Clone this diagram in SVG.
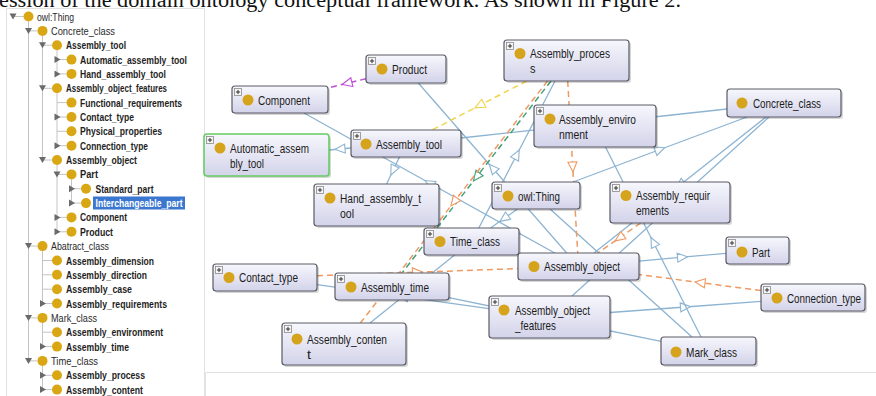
<svg xmlns="http://www.w3.org/2000/svg" xmlns:xlink="http://www.w3.org/1999/xlink" width="876" height="396" viewBox="0 0 876 396">
<defs>
  <linearGradient id="ng" x1="0" y1="0" x2="0" y2="1">
    <stop offset="0" stop-color="#f7f7fd"/>
    <stop offset="1" stop-color="#d3d3ea"/>
  </linearGradient>
  <g id="plus">
    <rect x="0" y="0" width="7" height="7" fill="#f6f6f6" stroke="#8a8a8a" stroke-width="0.8"/>
    <path d="M3.5 1.4v4.2M1.4 3.5h4.2" stroke="#333" stroke-width="1"/>
  </g>
  <marker id="mb" markerUnits="userSpaceOnUse" markerWidth="13" markerHeight="12" refX="6" refY="6" orient="auto">
    <path d="M1,1.5 L11,6 L1,10.5 z" fill="#fff" stroke="#8db4d2" stroke-width="1.1"/>
  </marker>
  <marker id="mp" markerUnits="userSpaceOnUse" markerWidth="13" markerHeight="12" refX="6" refY="6" orient="auto">
    <path d="M1,1.5 L11,6 L1,10.5 z" fill="#fff" stroke="#c050d8" stroke-width="1.1"/>
  </marker>
  <marker id="my" markerUnits="userSpaceOnUse" markerWidth="13" markerHeight="12" refX="6" refY="6" orient="auto">
    <path d="M1,1.5 L11,6 L1,10.5 z" fill="#fff" stroke="#f0d44a" stroke-width="1.1"/>
  </marker>
  <marker id="mg" markerUnits="userSpaceOnUse" markerWidth="13" markerHeight="12" refX="6" refY="6" orient="auto">
    <path d="M1,1.5 L11,6 L1,10.5 z" fill="#fff" stroke="#3f9f7e" stroke-width="1.1"/>
  </marker>
  <marker id="mo" markerUnits="userSpaceOnUse" markerWidth="13" markerHeight="12" refX="6" refY="6" orient="auto">
    <path d="M1,1.5 L11,6 L1,10.5 z" fill="#fff" stroke="#ee9a62" stroke-width="1.1"/>
  </marker>
</defs>
<style>
  .caption { font-family: "Liberation Serif", "Times New Roman", serif; font-size: 20px; fill: #111; }
  .tr { font-family: "Liberation Sans", Arial, sans-serif; font-size: 11px; fill: #2a2a2a; }
  .tb { font-weight: bold; fill: #1e1e1e; }
  .guide { stroke: #c4c4c4; stroke-width: 1; fill: none; }
  .tog { fill: #6a6a6a; }
  .tdot { fill: #d9a614; }
  .nl { font-family: "Liberation Sans", Arial, sans-serif; font-size: 13.5px; fill: #1c1c1c; }
  .box { fill: url(#ng); stroke: #5a5a66; stroke-width: 1.2; }
  .sel { stroke: #66cc66; stroke-width: 1.6; }
  .sh { fill: #000; opacity: 0.16; }
  .dot { fill: #d6a31c; }
  .isa { fill: none; stroke: #8db4d2; stroke-width: 1.3; marker-mid: url(#mb); }
  .rp { fill: none; stroke: #c050d8; stroke-width: 1.5; stroke-dasharray: 6 4; marker-mid: url(#mp); }
  .ry { fill: none; stroke: #f0d44a; stroke-width: 1.5; stroke-dasharray: 6 4; marker-mid: url(#my); }
  .rg { fill: none; stroke: #3f9f7e; stroke-width: 1.5; stroke-dasharray: 6 4; marker-mid: url(#mg); }
  .ro { fill: none; stroke: #ee9a62; stroke-width: 1.5; stroke-dasharray: 6 4; marker-mid: url(#mo); }
  .frame { fill: none; stroke: #e2e2e2; stroke-width: 1; }
</style>

<rect width="876" height="396" fill="#ffffff"/>

<!-- running text line of the page, cut at the top edge -->
<text class="caption" x="-1" y="7" textLength="682" lengthAdjust="spacingAndGlyphs">ession of the domain ontology conceptual framework. As shown in Figure 2.</text>

<!-- panel frames -->
<path class="frame" d="M6.5 396V8.5H204.5V396"/>
<path class="frame" d="M205.5 396V372.5H876"/>

<!-- class hierarchy tree -->
<g id="tree">
  <g class="guide">
    <path d="M28.5 21.5V360.9"/>
    <path d="M42.5 35.9V160"/>
    <path d="M57 50.2V73.9"/>
    <path d="M57 93.3V145.7"/>
    <path d="M57 165V231.8"/>
    <path d="M71.5 179.4V203.1"/>
    <path d="M42.5 251.1V303.5"/>
    <path d="M42.5 322.9V346.6"/>
    <path d="M42.5 365.9V389.6"/>
    <!-- row stubs -->
    <path d="M13 16.5H23.5M28.5 30.9H37.5M42.5 45.2H52M57 59.6H66.5M57 73.9H66.5M42.5 88.3H52M57 102.6H66.5M57 117H66.5M57 131.3H66.5M57 145.7H66.5M42.5 160H52M57 174.4H66.5M71.5 188.7H81M71.5 203.1H81M57 217.4H66.5M57 231.8H66.5M28.5 246.1H37.5M42.5 260.5H52M42.5 274.8H52M42.5 289.2H52M42.5 303.5H52M28.5 317.9H37.5M42.5 332.2H52M42.5 346.6H52M28.5 360.9H37.5M42.5 375.3H52M42.5 389.6H52"/>
  </g>
  <!-- expand / collapse toggles -->
  <g class="tog">
    <path d="M9.5 13.5h7l-3.5 6z"/>
    <path d="M25 27.9h7l-3.5 6z"/>
    <path d="M39 42.2h7l-3.5 6z"/>
    <path d="M54.5 56.1l6 3.5-6 3.5z"/>
    <path d="M54.5 70.4l6 3.5-6 3.5z"/>
    <path d="M39 85.3h7l-3.5 6z"/>
    <path d="M54.5 113.5l6 3.5-6 3.5z"/>
    <path d="M54.5 142.2l6 3.5-6 3.5z"/>
    <path d="M39 157h7l-3.5 6z"/>
    <path d="M53.5 171.4h7l-3.5 6z"/>
    <path d="M69 185.2l6 3.5-6 3.5z"/>
    <path d="M69 199.6l6 3.5-6 3.5z"/>
    <path d="M54.5 213.9l6 3.5-6 3.5z"/>
    <path d="M54.5 228.3l6 3.5-6 3.5z"/>
    <path d="M25 243.1h7l-3.5 6z"/>
    <path d="M40 300l6 3.5-6 3.5z"/>
    <path d="M25 314.9h7l-3.5 6z"/>
    <path d="M40 343.1l6 3.5-6 3.5z"/>
    <path d="M25 357.9h7l-3.5 6z"/>
    <path d="M40 371.8l6 3.5-6 3.5z"/>
    <path d="M40 386.1l6 3.5-6 3.5z"/>
  </g>
  <g class="tdot">
    <circle cx="28.5" cy="16.5" r="5"/>
    <circle cx="42.5" cy="30.9" r="5"/>
    <circle cx="57" cy="45.2" r="5"/>
    <circle cx="71.5" cy="59.6" r="5"/>
    <circle cx="71.5" cy="73.9" r="5"/>
    <circle cx="57" cy="88.3" r="5"/>
    <circle cx="71.5" cy="102.6" r="5"/>
    <circle cx="71.5" cy="117" r="5"/>
    <circle cx="71.5" cy="131.3" r="5"/>
    <circle cx="71.5" cy="145.7" r="5"/>
    <circle cx="57" cy="160" r="5"/>
    <circle cx="71.5" cy="174.4" r="5"/>
    <circle cx="86" cy="188.7" r="5"/>
    <circle cx="86" cy="203.1" r="5"/>
    <circle cx="71.5" cy="217.4" r="5"/>
    <circle cx="71.5" cy="231.8" r="5"/>
    <circle cx="42.5" cy="246.1" r="5"/>
    <circle cx="57" cy="260.5" r="5"/>
    <circle cx="57" cy="274.8" r="5"/>
    <circle cx="57" cy="289.2" r="5"/>
    <circle cx="57" cy="303.5" r="5"/>
    <circle cx="42.5" cy="317.9" r="5"/>
    <circle cx="57" cy="332.2" r="5"/>
    <circle cx="57" cy="346.6" r="5"/>
    <circle cx="42.5" cy="360.9" r="5"/>
    <circle cx="57" cy="375.3" r="5"/>
    <circle cx="57" cy="389.6" r="5"/>
  </g>
  <rect x="93" y="196.5" width="92" height="13" fill="#3b77cf"/>
  <g class="tr">
    <text x="37" y="20.5" textLength="37" lengthAdjust="spacingAndGlyphs">owl:Thing</text>
    <text x="51" y="34.9" textLength="64" lengthAdjust="spacingAndGlyphs">Concrete_class</text>
    <text class="tb" x="66" y="49.2" textLength="60" lengthAdjust="spacingAndGlyphs">Assembly_tool</text>
    <text class="tb" x="80" y="63.6" textLength="107" lengthAdjust="spacingAndGlyphs">Automatic_assembly_tool</text>
    <text class="tb" x="80" y="77.9" textLength="86" lengthAdjust="spacingAndGlyphs">Hand_assembly_tool</text>
    <text class="tb" x="66" y="92.3" textLength="101" lengthAdjust="spacingAndGlyphs">Assembly_object_features</text>
    <text class="tb" x="80" y="106.6" textLength="102" lengthAdjust="spacingAndGlyphs">Functional_requirements</text>
    <text class="tb" x="80" y="121" textLength="54" lengthAdjust="spacingAndGlyphs">Contact_type</text>
    <text class="tb" x="80" y="135.3" textLength="82" lengthAdjust="spacingAndGlyphs">Physical_properties</text>
    <text class="tb" x="80" y="149.7" textLength="68" lengthAdjust="spacingAndGlyphs">Connection_type</text>
    <text class="tb" x="66" y="164" textLength="71" lengthAdjust="spacingAndGlyphs">Assembly_object</text>
    <text class="tb" x="80" y="178.4" textLength="18" lengthAdjust="spacingAndGlyphs">Part</text>
    <text class="tb" x="95.5" y="192.7" textLength="58" lengthAdjust="spacingAndGlyphs">Standard_part</text>
    <text class="tb" x="95.5" y="207.1" textLength="87" lengthAdjust="spacingAndGlyphs" style="fill:#ffffff">Interchangeable_part</text>
    <text class="tb" x="80" y="221.4" textLength="47" lengthAdjust="spacingAndGlyphs">Component</text>
    <text class="tb" x="80" y="235.8" textLength="33" lengthAdjust="spacingAndGlyphs">Product</text>
    <text x="51" y="250.1" textLength="58" lengthAdjust="spacingAndGlyphs">Abatract_class</text>
    <text class="tb" x="66" y="264.5" textLength="88" lengthAdjust="spacingAndGlyphs">Assembly_dimension</text>
    <text class="tb" x="66" y="278.8" textLength="81" lengthAdjust="spacingAndGlyphs">Assembly_direction</text>
    <text class="tb" x="66" y="293.2" textLength="66" lengthAdjust="spacingAndGlyphs">Assembly_case</text>
    <text class="tb" x="66" y="307.5" textLength="101" lengthAdjust="spacingAndGlyphs">Assembly_requirements</text>
    <text x="51" y="321.9" textLength="46" lengthAdjust="spacingAndGlyphs">Mark_class</text>
    <text class="tb" x="66" y="336.2" textLength="97" lengthAdjust="spacingAndGlyphs">Assembly_environment</text>
    <text class="tb" x="66" y="350.6" textLength="63" lengthAdjust="spacingAndGlyphs">Assembly_time</text>
    <text x="51" y="364.9" textLength="47" lengthAdjust="spacingAndGlyphs">Time_class</text>
    <text class="tb" x="66" y="379.3" textLength="79" lengthAdjust="spacingAndGlyphs">Assembly_process</text>
    <text class="tb" x="66" y="393.6" textLength="77" lengthAdjust="spacingAndGlyphs">Assembly_content</text>
  </g>
</g>

<!-- graph connectors: each path has a middle vertex carrying the arrowhead -->
<g id="connectors">
  <!-- subclass links -->
  <path class="isa" d="M573 182L660 149.5L747 117"/>
  <path class="isa" d="M517.5 209L504 218.5L490.5 228"/>
  <path class="isa" d="M550 209L621 273L692 337"/>
  <path class="isa" d="M727 109L594 123.5L461 138"/>
  <path class="isa" d="M766 117L680 185L594 253"/>
  <path class="isa" d="M769 117L670.5 206.5L572 296"/>
  <path class="isa" d="M351 148L340 149L329 150"/>
  <path class="isa" d="M399.5 157L393 170.5L386.6 184"/>
  <path class="isa" d="M554.7 253L429.4 183L304 113"/>
  <path class="isa" d="M566.7 253L492.5 168L418.3 83"/>
  <path class="isa" d="M639 261.1L682.5 257.2L726 253.3"/>
  <path class="isa" d="M489 308.6L403 296.6L317 284.7"/>
  <path class="isa" d="M610 312.5L685.5 307L761 301.4"/>
  <path class="isa" d="M701 337L653.2 242L605.5 147"/>
  <path class="isa" d="M661 341.3L555 319.5L449 297.7"/>
  <path class="isa" d="M478.8 228L516.9 154.5L555 81"/>
  <path class="isa" d="M454.6 255L412.3 289L370 323"/>
  <!-- property links -->
  <path class="rp" d="M366 78.7L347 83.3L328 87.9"/>
  <path class="ry" d="M526.8 81L479.4 105.5L432 130"/>
  <path class="rg" d="M551 81L476.5 177L402 273"/>
  <path class="ro" d="M547.5 81L454 202L360.4 323"/>
  <path class="ro" d="M567.7 81L572.7 167L577.7 253"/>
  <path class="ro" d="M640.7 223L619.3 238L597.8 253"/>
  <path class="ro" d="M761 290.6L700 282.6L639 274.5"/>
  <path class="ro" d="M317 275.7L417.5 272.2L518 268.6"/>
</g>

<!-- graph nodes -->
<g id="n-product">
  <rect class="sh" x="368" y="57" width="80" height="28" rx="3"/>
  <rect class="box" x="366" y="55" width="80" height="28" rx="3"/>
  <use xlink:href="#plus" x="368.5" y="57.5"/>
  <circle class="dot" cx="382" cy="69" r="5.5"/>
  <text class="nl" x="392" y="73.7" textLength="35" lengthAdjust="spacingAndGlyphs">Product</text>
</g>
<g id="n-component">
  <rect class="sh" x="234" y="88" width="96" height="27" rx="3"/>
  <rect class="box" x="232" y="86" width="96" height="27" rx="3"/>
  <use xlink:href="#plus" x="234.5" y="88.5"/>
  <circle class="dot" cx="248" cy="100" r="5.5"/>
  <text class="nl" x="258" y="104.7" textLength="52" lengthAdjust="spacingAndGlyphs">Component</text>
</g>
<g id="n-automatic-assembly-tool">
  <rect class="sh" x="206" y="136" width="125" height="42" rx="3"/>
  <rect class="box sel" x="204" y="134" width="125" height="42" rx="3"/>
  <use xlink:href="#plus" x="206.5" y="136.5"/>
  <circle class="dot" cx="220" cy="148" r="5.5"/>
  <text class="nl" x="230" y="152.7" textLength="79" lengthAdjust="spacingAndGlyphs">Automatic_assem</text>
  <text class="nl" x="230" y="167.7" textLength="34" lengthAdjust="spacingAndGlyphs">bly_tool</text>
</g>
<g id="n-assembly-tool">
  <rect class="sh" x="353" y="132" width="110" height="27" rx="3"/>
  <rect class="box" x="351" y="130" width="110" height="27" rx="3"/>
  <use xlink:href="#plus" x="353.5" y="132.5"/>
  <circle class="dot" cx="366" cy="144" r="5.5"/>
  <text class="nl" x="376" y="148.7" textLength="66" lengthAdjust="spacingAndGlyphs">Assembly_tool</text>
</g>
<g id="n-assembly-process">
  <rect class="sh" x="506" y="42" width="125" height="41" rx="3"/>
  <rect class="box" x="504" y="40" width="125" height="41" rx="3"/>
  <use xlink:href="#plus" x="506.5" y="42.5"/>
  <circle class="dot" cx="520" cy="53.5" r="5.5"/>
  <text class="nl" x="530" y="58" textLength="80" lengthAdjust="spacingAndGlyphs">Assembly_proces</text>
  <text class="nl" x="530" y="73" textLength="5.5" lengthAdjust="spacingAndGlyphs">s</text>
</g>
<g id="n-assembly-environment">
  <rect class="sh" x="536" y="107" width="122" height="42" rx="3"/>
  <rect class="box" x="534" y="105" width="122" height="42" rx="3"/>
  <use xlink:href="#plus" x="536.5" y="107.5"/>
  <circle class="dot" cx="550" cy="119" r="5.5"/>
  <text class="nl" x="559" y="123.7" textLength="77" lengthAdjust="spacingAndGlyphs">Assembly_enviro</text>
  <text class="nl" x="559" y="138.7" textLength="29" lengthAdjust="spacingAndGlyphs">nment</text>
</g>
<g id="n-concrete-class">
  <rect class="sh" x="729" y="91" width="114" height="28" rx="3"/>
  <rect class="box" x="727" y="89" width="114" height="28" rx="3"/>
  <circle class="dot" cx="742" cy="103" r="5.5"/>
  <text class="nl" x="753" y="107.7" textLength="68" lengthAdjust="spacingAndGlyphs">Concrete_class</text>
</g>
<g id="n-assembly-requirements">
  <rect class="sh" x="612" y="184" width="120" height="41" rx="3"/>
  <rect class="box" x="610" y="182" width="120" height="41" rx="3"/>
  <use xlink:href="#plus" x="612.5" y="184.5"/>
  <circle class="dot" cx="626" cy="195.5" r="5.5"/>
  <text class="nl" x="636" y="200" textLength="74" lengthAdjust="spacingAndGlyphs">Assembly_requir</text>
  <text class="nl" x="636" y="215" textLength="33" lengthAdjust="spacingAndGlyphs">ements</text>
</g>
<g id="n-hand-assembly-tool">
  <rect class="sh" x="316" y="186" width="125" height="42" rx="3"/>
  <rect class="box" x="314" y="184" width="125" height="42" rx="3"/>
  <use xlink:href="#plus" x="316.5" y="186.5"/>
  <circle class="dot" cx="330" cy="198" r="5.5"/>
  <text class="nl" x="340" y="202.7" textLength="81" lengthAdjust="spacingAndGlyphs">Hand_assembly_t</text>
  <text class="nl" x="340" y="217.7" textLength="14" lengthAdjust="spacingAndGlyphs">ool</text>
</g>
<g id="n-owl-thing">
  <rect class="sh" x="494" y="184" width="88" height="27" rx="3"/>
  <rect class="box" x="492" y="182" width="88" height="27" rx="3"/>
  <use xlink:href="#plus" x="494.5" y="184.5"/>
  <circle class="dot" cx="508" cy="196" r="5.5"/>
  <text class="nl" x="518" y="200.7" textLength="42" lengthAdjust="spacingAndGlyphs">owl:Thing</text>
</g>
<g id="n-time-class">
  <rect class="sh" x="426" y="230" width="95" height="27" rx="3"/>
  <rect class="box" x="424" y="228" width="95" height="27" rx="3"/>
  <use xlink:href="#plus" x="426.5" y="230.5"/>
  <circle class="dot" cx="440" cy="241.5" r="5.5"/>
  <text class="nl" x="450" y="246.2" textLength="50" lengthAdjust="spacingAndGlyphs">Time_class</text>
</g>
<g id="n-assembly-object">
  <rect class="sh" x="520" y="255" width="121" height="27" rx="3"/>
  <rect class="box" x="518" y="253" width="121" height="27" rx="3"/>
  <circle class="dot" cx="534" cy="266.5" r="5.5"/>
  <text class="nl" x="544" y="271.2" textLength="76" lengthAdjust="spacingAndGlyphs">Assembly_object</text>
</g>
<g id="n-contact-type">
  <rect class="sh" x="215" y="266" width="104" height="27" rx="3"/>
  <rect class="box" x="213" y="264" width="104" height="27" rx="3"/>
  <use xlink:href="#plus" x="215.5" y="266.5"/>
  <circle class="dot" cx="229" cy="277.5" r="5.5"/>
  <text class="nl" x="239" y="282.2" textLength="59" lengthAdjust="spacingAndGlyphs">Contact_type</text>
</g>
<g id="n-assembly-time">
  <rect class="sh" x="337" y="275" width="114" height="27" rx="3"/>
  <rect class="box" x="335" y="273" width="114" height="27" rx="3"/>
  <use xlink:href="#plus" x="337.5" y="275.5"/>
  <circle class="dot" cx="351" cy="287" r="5.5"/>
  <text class="nl" x="361" y="291.7" textLength="68" lengthAdjust="spacingAndGlyphs">Assembly_time</text>
</g>
<g id="n-assembly-content">
  <rect class="sh" x="284" y="325" width="124" height="42" rx="3"/>
  <rect class="box" x="282" y="323" width="124" height="42" rx="3"/>
  <use xlink:href="#plus" x="284.5" y="325.5"/>
  <circle class="dot" cx="297" cy="339" r="5.5"/>
  <text class="nl" x="307" y="343.7" textLength="80" lengthAdjust="spacingAndGlyphs">Assembly_conten</text>
  <text class="nl" x="307" y="358.7" textLength="4" lengthAdjust="spacingAndGlyphs">t</text>
</g>
<g id="n-assembly-object-features">
  <rect class="sh" x="491" y="298" width="121" height="42" rx="3"/>
  <rect class="box" x="489" y="296" width="121" height="42" rx="3"/>
  <use xlink:href="#plus" x="491.5" y="298.5"/>
  <circle class="dot" cx="504" cy="310" r="5.5"/>
  <text class="nl" x="515" y="314.7" textLength="75" lengthAdjust="spacingAndGlyphs">Assembly_object</text>
  <text class="nl" x="515" y="329.7" textLength="41" lengthAdjust="spacingAndGlyphs">_features</text>
</g>
<g id="n-part">
  <rect class="sh" x="728" y="239" width="63" height="27" rx="3"/>
  <rect class="box" x="726" y="237" width="63" height="27" rx="3"/>
  <use xlink:href="#plus" x="728.5" y="239.5"/>
  <circle class="dot" cx="742" cy="252" r="5.5"/>
  <text class="nl" x="752" y="256.7" textLength="18" lengthAdjust="spacingAndGlyphs">Part</text>
</g>
<g id="n-connection-type">
  <rect class="sh" x="763" y="286" width="104" height="27" rx="3"/>
  <rect class="box" x="761" y="284" width="104" height="27" rx="3"/>
  <use xlink:href="#plus" x="763.5" y="286.5"/>
  <circle class="dot" cx="777" cy="298" r="5.5"/>
  <text class="nl" x="787" y="302.7" textLength="74" lengthAdjust="spacingAndGlyphs">Connection_type</text>
</g>
<g id="n-mark-class">
  <rect class="sh" x="663" y="339" width="95" height="28" rx="3"/>
  <rect class="box" x="661" y="337" width="95" height="28" rx="3"/>
  <circle class="dot" cx="676" cy="352" r="5.5"/>
  <text class="nl" x="686" y="356.7" textLength="51" lengthAdjust="spacingAndGlyphs">Mark_class</text>
</g>
</svg>
